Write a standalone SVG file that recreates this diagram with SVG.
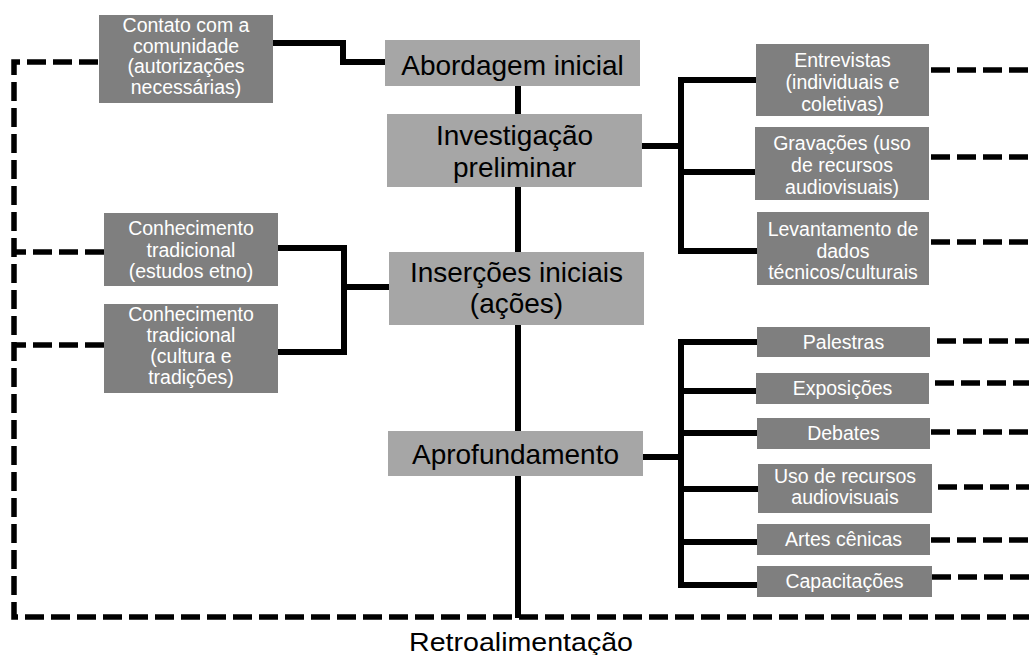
<svg xmlns="http://www.w3.org/2000/svg" width="1029" height="655" viewBox="0 0 1029 655">
<style>
.main{fill:#a6a6a6}
.sub{fill:#7f7f7f}
.mt{font-family:"Liberation Sans",Arial,sans-serif;font-size:28px;fill:#000;text-anchor:middle}
.st{font-family:"Liberation Sans",Arial,sans-serif;font-size:19.5px;fill:#fff;text-anchor:middle}
.solid{fill:none;stroke:#000;stroke-width:6}
.dash{fill:none;stroke:#000;stroke-width:5.5;stroke-dasharray:19 7}
</style>
<rect width="1029" height="655" fill="#fff"/>
<g id="connectors">
<path class="dash" d="M98,62 H14 V617 H1029"/>
<path class="dash" d="M104,252 H14"/>
<path class="dash" d="M104,345 H14"/>
<path class="dash" d="M931,70 H1029"/>
<path class="dash" d="M931,157 H1029"/>
<path class="dash" d="M931,242 H1029"/>
<path class="dash" d="M937,341 H1029"/>
<path class="dash" d="M935,383 H1029"/>
<path class="dash" d="M931,432 H1029"/>
<path class="dash" d="M938,487 H1029"/>
<path class="dash" d="M931,540 H1029"/>
<path class="dash" d="M932,577 H1029"/>
<path class="solid" d="M518,86 V618"/>
<path class="solid" d="M273,43 H343 V62 H385"/>
<path class="solid" d="M278,248 H344 V352 H278 M344,287 H389"/>
<path class="solid" d="M642,146 H681 M756,80 H681 V251 H757 M681,172 H755"/>
<path class="solid" d="M643,457 H681 M757,342 H681 V585 H757 M681,391 H756 M681,433 H757 M681,489 H758 M681,542 H757"/>
</g>
<g id="abordagem">
<rect class="main" x="385" y="40" width="255" height="46"/>
<text class="mt" x="512.5" y="75">Abordagem inicial</text>
</g>
<g id="investigacao">
<rect class="main" x="387" y="114" width="255" height="73"/>
<text class="mt" x="514.5" y="145">Investigação</text>
<text class="mt" x="514.5" y="177">preliminar</text>
</g>
<g id="insercoes">
<rect class="main" x="389" y="252" width="255" height="73"/>
<text class="mt" x="516.5" y="282">Inserções iniciais</text>
<text class="mt" x="516.5" y="313">(ações)</text>
</g>
<g id="aprofundamento">
<rect class="main" x="388" y="431" width="255" height="45"/>
<text class="mt" x="515.5" y="464">Aprofundamento</text>
</g>
<g id="contato">
<rect class="sub" x="99" y="15" width="174" height="88"/>
<text class="st" x="186" y="32">Contato com a</text>
<text class="st" x="186" y="53">comunidade</text>
<text class="st" x="186" y="73">(autorizações</text>
<text class="st" x="186" y="94">necessárias)</text>
</g>
<g id="conhecimento1">
<rect class="sub" x="104" y="213" width="174" height="73"/>
<text class="st" x="191" y="235">Conhecimento</text>
<text class="st" x="191" y="257">tradicional</text>
<text class="st" x="191" y="278">(estudos etno)</text>
</g>
<g id="conhecimento2">
<rect class="sub" x="104" y="304" width="174" height="89"/>
<text class="st" x="191" y="321">Conhecimento</text>
<text class="st" x="191" y="342">tradicional</text>
<text class="st" x="191" y="363">(cultura e</text>
<text class="st" x="191" y="384">tradições)</text>
</g>
<g id="entrevistas">
<rect class="sub" x="756" y="44" width="173" height="72"/>
<text class="st" x="842.5" y="67">Entrevistas</text>
<text class="st" x="842.5" y="89">(individuais e</text>
<text class="st" x="842.5" y="111">coletivas)</text>
</g>
<g id="gravacoes">
<rect class="sub" x="755" y="127" width="174" height="73"/>
<text class="st" x="842" y="150">Gravações (uso</text>
<text class="st" x="842" y="172">de recursos</text>
<text class="st" x="842" y="194">audiovisuais)</text>
</g>
<g id="levantamento">
<rect class="sub" x="757" y="212" width="172" height="73"/>
<text class="st" x="843" y="236">Levantamento de</text>
<text class="st" x="843" y="258">dados</text>
<text class="st" x="843" y="279">técnicos/culturais</text>
</g>
<g id="palestras">
<rect class="sub" x="757" y="327" width="173" height="30"/>
<text class="st" x="843.5" y="349">Palestras</text>
</g>
<g id="exposicoes">
<rect class="sub" x="756" y="373" width="173" height="31"/>
<text class="st" x="842.5" y="395">Exposições</text>
</g>
<g id="debates">
<rect class="sub" x="757" y="418" width="173" height="31"/>
<text class="st" x="843.5" y="440">Debates</text>
</g>
<g id="uso">
<rect class="sub" x="758" y="464" width="174" height="49"/>
<text class="st" x="845" y="483">Uso de recursos</text>
<text class="st" x="845" y="504">audiovisuais</text>
</g>
<g id="artes">
<rect class="sub" x="757" y="524" width="173" height="31"/>
<text class="st" x="843.5" y="546">Artes cênicas</text>
</g>
<g id="capacitacoes">
<rect class="sub" x="757" y="566" width="175" height="31"/>
<text class="st" x="844.5" y="588">Capacitações</text>
</g>
<g id="retroalimentacao">
<text x="521" y="651" font-family="'Liberation Sans',Arial,sans-serif" font-size="26" text-anchor="middle" textLength="224" lengthAdjust="spacingAndGlyphs">Retroalimentação</text>
</g>
</svg>
